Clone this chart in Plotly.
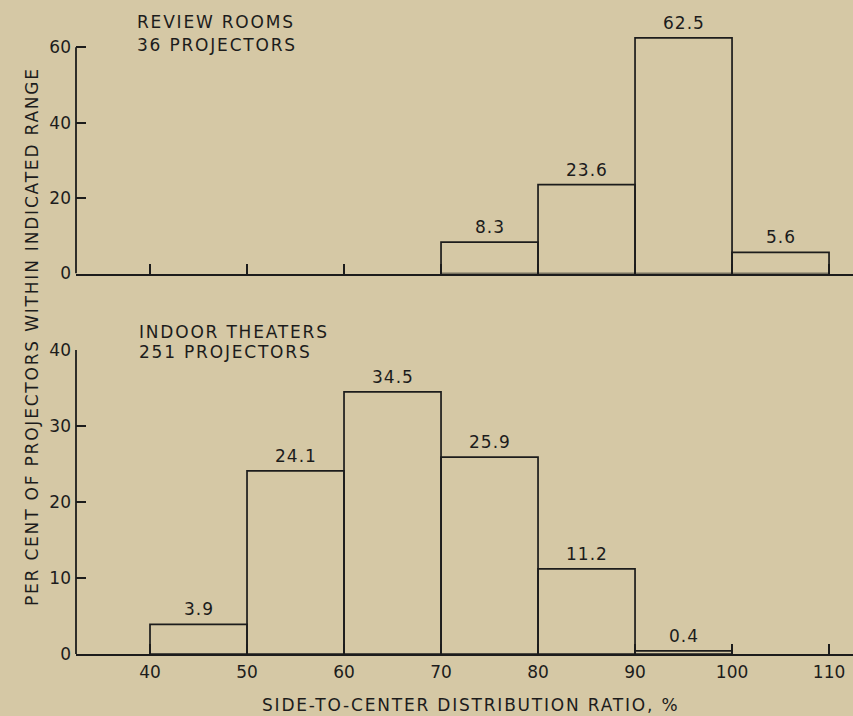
import plotly.graph_objects as go

# bin lower edges (side-to-center ratio, %) and percentage of projectors
bins_review = [70, 80, 90, 100]
pct_review = [8.3, 23.6, 62.5, 5.6]
bins_theater = [40, 50, 60, 70, 80, 90]
pct_theater = [3.9, 24.1, 34.5, 25.9, 11.2, 0.4]
bin_width = 10

x_ticks = [40, 50, 60, 70, 80, 90, 100, 110]
x_tick_labels = ['40', '50', '60', '70', '80', '90', '100', '110']
y_ticks_review = [0, 20, 40, 60]
y_ticks_theater = [0, 10, 20, 30, 40]

W, H = 853, 716
L = 76
BG = '#d5c8a5'
INK = '#1c1c1c'
FONT = 'DejaVu Sans'


def py(p):
    return 1 - p / H


def px(p):
    return (p - L) / (W - L)


def spaced(t, s=1.8):
    return f'<span style="letter-spacing:{s}px">{t}</span>'


fig = go.Figure()

for lo, vals, xa, ya in [(bins_review, pct_review, 'x', 'y'),
                         (bins_theater, pct_theater, 'x2', 'y2')]:
    fig.add_trace(go.Bar(
        x=lo, y=vals, width=bin_width, offset=0,
        marker=dict(color='rgba(0,0,0,0)', line=dict(color=INK, width=1.7)),
        xaxis=xa, yaxis=ya, showlegend=False, hoverinfo='skip'
    ))
    for b, v in zip(lo, vals):
        fig.add_annotation(
            x=b + bin_width / 2, y=v, xref=xa, yref=ya,
            text=spaced(f'{v}', 1), showarrow=False, yanchor='bottom', yshift=3,
            font=dict(size=17, color=INK, family=FONT)
        )

# y axis lines only up to the top tick
fig.add_shape(type='line', xref='x domain', yref='y', x0=0, x1=0,
              y0=0, y1=y_ticks_review[-1], line=dict(color=INK, width=1.8))
fig.add_shape(type='line', xref='x2 domain', yref='y2', x0=0, x1=0,
              y0=0, y1=y_ticks_theater[-1], line=dict(color=INK, width=1.8))

x_range = [32.37, 112.47]
xcommon = dict(range=x_range, tickvals=x_ticks, ticktext=x_tick_labels,
               ticks='inside', ticklen=10, tickwidth=1.6, tickcolor=INK,
               showline=True, linecolor=INK, linewidth=1.8, showgrid=False,
               zeroline=False, ticklabelstandoff=2, automargin=False,
               tickfont=dict(size=17, color=INK, family=FONT))
ycommon = dict(ticks='inside', ticklen=10, tickwidth=1.6, tickcolor=INK,
               showline=False, showgrid=False, zeroline=False,
               ticklabelstandoff=4, automargin=False,
               tickfont=dict(size=17, color=INK, family=FONT))

fig.update_layout(
    width=W, height=H,
    margin=dict(l=L, r=0, t=0, b=0, autoexpand=False),
    paper_bgcolor=BG, plot_bgcolor=BG,
    xaxis=dict(**xcommon, anchor='y', domain=[0, 1], showticklabels=False),
    yaxis=dict(**ycommon, anchor='x', domain=[py(273.5), py(20)],
               range=[0, 253.5 / 3.77], tickvals=y_ticks_review),
    xaxis2=dict(**xcommon, anchor='y2', domain=[0, 1]),
    yaxis2=dict(**ycommon, anchor='x2', domain=[py(654), py(350)],
                range=[0, 40], tickvals=y_ticks_theater),
    font=dict(family=FONT, color=INK),
)

for txt, xp, yp in [('REVIEW ROOMS', 135, 22), ('36 PROJECTORS', 135, 45),
                    ('INDOOR THEATERS', 137, 332), ('251 PROJECTORS', 137, 352)]:
    fig.add_annotation(x=px(xp), y=py(yp), xref='paper', yref='paper',
                       text=spaced(txt), showarrow=False, xanchor='left', yanchor='middle',
                       font=dict(size=17, color=INK, family=FONT))

fig.add_annotation(x=px(20), y=py(337), xref='paper', yref='paper',
                   text=spaced('PER CENT OF PROJECTORS WITHIN INDICATED RANGE'),
                   textangle=-90, showarrow=False,
                   font=dict(size=17, color=INK, family=FONT))
fig.add_annotation(x=px(471), y=py(705), xref='paper', yref='paper',
                   text=spaced('SIDE-TO-CENTER DISTRIBUTION RATIO, %'),
                   showarrow=False, yanchor='middle',
                   font=dict(size=17, color=INK, family=FONT))

# page without body margin or scrollbars, so the figure fills the window
page_fix = (
    "document.documentElement.style.cssText='margin:0;padding:0;overflow:hidden;height:716px';"
    "document.body.style.cssText='margin:0;padding:0;overflow:hidden;height:716px';"
)
fig.write_html('out.html', post_script=page_fix,
               config={'displayModeBar': False})
